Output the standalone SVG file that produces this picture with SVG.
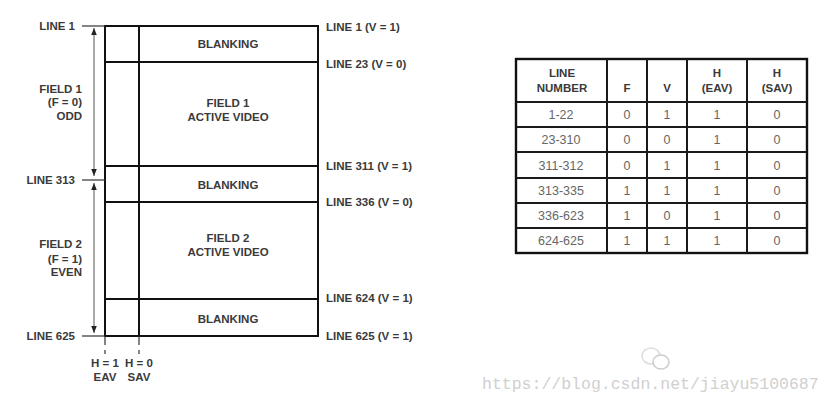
<svg xmlns="http://www.w3.org/2000/svg" width="833" height="405" viewBox="0 0 833 405">
<style>
.t{font-family:"Liberation Sans",Arial,sans-serif;font-size:11.5px;font-weight:bold;fill:#3a3a3a}
.m{text-anchor:middle}
.e{text-anchor:end}
.d{font-family:"Liberation Sans",Arial,sans-serif;font-size:12.5px;fill:#666;text-anchor:middle}
.box{fill:none;stroke:#111;stroke-width:2}
.thin{stroke:#333;stroke-width:1.2;fill:none}
.arr{stroke:#555;stroke-width:1;fill:none;marker-start:url(#ah);marker-end:url(#ah)}
.tb{fill:none;stroke:#1a1a1a;stroke-width:2}
</style>
<defs>
<marker id="ah" viewBox="0 0 10 10" refX="10" refY="5" markerWidth="7" markerHeight="7" orient="auto-start-reverse" markerUnits="userSpaceOnUse">
<path d="M0,1 L10,5 L0,9 z" fill="#222"/>
</marker>
</defs>
<rect width="833" height="405" fill="#fff"/>
<g id="frame">
<rect class="box" x="105" y="26" width="213" height="310"/>
<line class="box" x1="139" y1="26" x2="139" y2="336"/>
<line class="box" x1="105" y1="62" x2="318" y2="62"/>
<line class="box" x1="105" y1="166" x2="318" y2="166"/>
<line class="box" x1="105" y1="202" x2="318" y2="202"/>
<line class="box" x1="105" y1="299" x2="318" y2="299"/>
</g>
<g id="regions">
<text class="t m" x="228" y="48">BLANKING</text>
<text class="t m" x="228" y="107">FIELD 1</text>
<text class="t m" x="228" y="121">ACTIVE VIDEO</text>
<text class="t m" x="228" y="189">BLANKING</text>
<text class="t m" x="228" y="242">FIELD 2</text>
<text class="t m" x="228" y="256">ACTIVE VIDEO</text>
<text class="t m" x="228" y="323">BLANKING</text>
</g>
<g id="right-labels">
<text class="t" x="326" y="31">LINE 1 (V = 1)</text>
<text class="t" x="326" y="68">LINE 23 (V = 0)</text>
<text class="t" x="326" y="170">LINE 311 (V = 1)</text>
<text class="t" x="326" y="206">LINE 336 (V = 0)</text>
<text class="t" x="326" y="302">LINE 624 (V = 1)</text>
<text class="t" x="326" y="340">LINE 625 (V = 1)</text>
</g>
<g id="left-labels">
<text class="t e" x="75" y="30">LINE 1</text>
<text class="t e" x="75" y="184">LINE 313</text>
<text class="t e" x="75" y="340">LINE 625</text>
<text class="t e" x="82" y="93">FIELD 1</text>
<text class="t e" x="82" y="106">(F = 0)</text>
<text class="t e" x="82" y="120">ODD</text>
<text class="t e" x="82" y="248">FIELD 2</text>
<text class="t e" x="82" y="263">(F = 1)</text>
<text class="t e" x="82" y="276">EVEN</text>
<text class="t m" x="105" y="367">H = 1</text>
<text class="t m" x="105" y="381">EAV</text>
<text class="t m" x="139" y="367">H = 0</text>
<text class="t m" x="139" y="381">SAV</text>
</g>
<g id="connectors">
<line class="thin" x1="82" y1="26" x2="105" y2="26"/>
<line class="thin" x1="82" y1="180" x2="105" y2="180"/>
<line class="thin" x1="82" y1="336" x2="105" y2="336"/>
<line class="arr" x1="94" y1="28" x2="94" y2="176"/>
<line class="arr" x1="94" y1="183" x2="94" y2="333"/>
<line class="thin" x1="105" y1="336" x2="105" y2="345"/>
<line class="thin" x1="105" y1="350" x2="105" y2="354"/>
<line class="thin" x1="139" y1="336" x2="139" y2="345"/>
<line class="thin" x1="139" y1="350" x2="139" y2="354"/>
</g>
<g id="table">
<rect x="516" y="59" width="291" height="194" fill="none" stroke="#111" stroke-width="2.4"/>
<path class="tb" d="M607,59V253 M647,59V253 M687,59V253 M747,59V253"/>
<path class="tb" d="M516,102H807 M516,127H807 M516,152H807 M516,178H807 M516,203H807 M516,228H807"/>
<text class="t m" x="562" y="77">LINE</text>
<text class="t m" x="562" y="92">NUMBER</text>
<text class="t m" x="627" y="92">F</text>
<text class="t m" x="667" y="92">V</text>
<text class="t m" x="717" y="77">H</text>
<text class="t m" x="717" y="92">(EAV)</text>
<text class="t m" x="777" y="77">H</text>
<text class="t m" x="777" y="92">(SAV)</text>
<g>
<text class="d" x="561" y="119">1-22</text><text class="d" x="627" y="119">0</text><text class="d" x="667" y="119">1</text><text class="d" x="717" y="119">1</text><text class="d" x="777" y="119">0</text>
<text class="d" x="561" y="144">23-310</text><text class="d" x="627" y="144">0</text><text class="d" x="667" y="144">0</text><text class="d" x="717" y="144">1</text><text class="d" x="777" y="144">0</text>
<text class="d" x="561" y="170">311-312</text><text class="d" x="627" y="170">0</text><text class="d" x="667" y="170">1</text><text class="d" x="717" y="170">1</text><text class="d" x="777" y="170">0</text>
<text class="d" x="561" y="195">313-335</text><text class="d" x="627" y="195">1</text><text class="d" x="667" y="195">1</text><text class="d" x="717" y="195">1</text><text class="d" x="777" y="195">0</text>
<text class="d" x="561" y="220">336-623</text><text class="d" x="627" y="220">1</text><text class="d" x="667" y="220">0</text><text class="d" x="717" y="220">1</text><text class="d" x="777" y="220">0</text>
<text class="d" x="561" y="245">624-625</text><text class="d" x="627" y="245">1</text><text class="d" x="667" y="245">1</text><text class="d" x="717" y="245">1</text><text class="d" x="777" y="245">0</text>
</g>
</g>
<g id="watermark">
<ellipse cx="651" cy="356" rx="9" ry="8" fill="none" stroke="#ddd" stroke-width="1.5"/>
<ellipse cx="661" cy="362" rx="8" ry="7" fill="#fff" stroke="#ccc" stroke-width="1.5"/>
<text x="482" y="389" style="font-family:'Liberation Mono','DejaVu Sans Mono',monospace;font-size:16.5px;fill:#d0d0d0">https://blog.csdn.net/jiayu5100687</text>
</g>
</svg>
